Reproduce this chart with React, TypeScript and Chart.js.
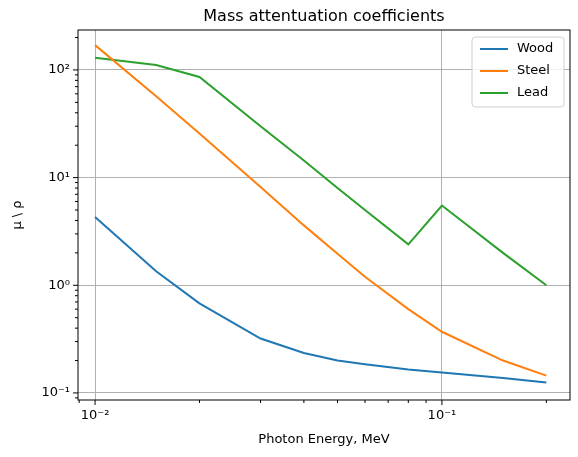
import { useEffect, useRef } from 'react';
import { Chart, registerables, type Plugin } from 'chart.js';

Chart.register(...registerables);

const energies = [0.01, 0.015, 0.02, 0.03, 0.04, 0.05, 0.06, 0.08, 0.1, 0.15, 0.2];
const wood = [4.3, 1.35, 0.68, 0.32, 0.235, 0.2, 0.185, 0.165, 0.155, 0.138, 0.125];
const steel = [170, 57, 25.7, 8.2, 3.6, 1.96, 1.2, 0.6, 0.37, 0.2, 0.145];
const lead = [130, 111, 86, 30, 14.4, 8.0, 5.0, 2.4, 5.5, 2.0, 1.0];
const seriesNames = ['Wood', 'Steel', 'Lead'];
const colors = ['#1f77b4', '#ff7f0e', '#2ca02c'];
const xMajor = [0.01, 0.1];
const xMajorLabels = ['10⁻²', '10⁻¹'];
const yMajor = [0.1, 1, 10, 100];
const yMajorLabels = ['10⁻¹', '10⁰', '10¹', '10²'];

const FONT = '"DejaVu Sans", sans-serif';

function minorTicks(min: number, max: number): number[] {
  const out: number[] = [];
  for (let e = Math.floor(Math.log10(min)); e <= Math.ceil(Math.log10(max)); e += 1) {
    for (let m = 2; m <= 9; m += 1) {
      const v = m * 10 ** e;
      if (v >= min && v <= max) out.push(v);
    }
  }
  return out;
}

const decorations: Plugin<'line'> = {
  id: 'decorations',
  afterDraw(chart) {
    const { ctx, chartArea: a } = chart;
    const xs = chart.scales.x;
    const ys = chart.scales.y;
    ctx.save();
    ctx.strokeStyle = '#000';
    ctx.lineWidth = 1;
    ctx.strokeRect(a.left, a.top, a.right - a.left, a.bottom - a.top);
    // ticks
    ctx.beginPath();
    xMajor.forEach((v) => { const p = xs.getPixelForValue(v); ctx.moveTo(p, a.bottom); ctx.lineTo(p, a.bottom + 5); });
    minorTicks(xs.min, xs.max).forEach((v) => { const p = xs.getPixelForValue(v); ctx.moveTo(p, a.bottom); ctx.lineTo(p, a.bottom + 3); });
    yMajor.forEach((v) => { const p = ys.getPixelForValue(v); ctx.moveTo(a.left, p); ctx.lineTo(a.left - 5, p); });
    minorTicks(ys.min, ys.max).forEach((v) => { const p = ys.getPixelForValue(v); ctx.moveTo(a.left, p); ctx.lineTo(a.left - 3, p); });
    ctx.stroke();
    ctx.fillStyle = '#000';
    ctx.font = `13px ${FONT}`;
    ctx.textAlign = 'center';
    ctx.textBaseline = 'top';
    xMajor.forEach((v, i) => ctx.fillText(xMajorLabels[i], xs.getPixelForValue(v), a.bottom + 9));
    ctx.textAlign = 'right';
    ctx.textBaseline = 'middle';
    yMajor.forEach((v, i) => ctx.fillText(yMajorLabels[i], a.left - 8, ys.getPixelForValue(v)));
    // axis titles
    ctx.textAlign = 'center';
    ctx.fillText('Photon Energy, MeV', (a.left + a.right) / 2, 440);
    ctx.save();
    ctx.translate(18, (a.top + a.bottom) / 2);
    ctx.rotate(-Math.PI / 2);
    ctx.fillText('μ \\ ρ', 0, 0);
    ctx.restore();
    ctx.font = `16px ${FONT}`;
    ctx.fillText('Mass attentuation coefficients', (a.left + a.right) / 2, 17);
    // legend
    const lx = 472; const ly = 37; const lw = 92; const lh = 70;
    ctx.fillStyle = 'rgba(255,255,255,0.8)';
    ctx.strokeStyle = '#d0d0d0';
    ctx.beginPath();
    ctx.roundRect(lx, ly, lw, lh, 3);
    ctx.fill();
    ctx.stroke();
    ctx.font = `13px ${FONT}`;
    ctx.textAlign = 'left';
    seriesNames.forEach((name, i) => {
      const y = ly + 12 + i * 22;
      ctx.strokeStyle = colors[i];
      ctx.lineWidth = 2;
      ctx.beginPath();
      ctx.moveTo(lx + 8, y);
      ctx.lineTo(lx + 36, y);
      ctx.stroke();
      ctx.fillStyle = '#000';
      ctx.fillText(name, lx + 45, y);
    });
    ctx.restore();
  },
};

export default function App() {
  const canvasRef = useRef<HTMLCanvasElement>(null);

  useEffect(() => {
    if (canvasRef.current === null) return undefined;
    const all = [wood, steel, lead];
    const chart = new Chart(canvasRef.current, {
      type: 'line',
      data: {
        datasets: all.map((vals, i) => ({
          label: seriesNames[i],
          data: energies.map((x, j) => ({ x, y: vals[j] })),
          borderColor: colors[i],
          backgroundColor: colors[i],
          borderWidth: 2,
          pointRadius: 0,
          tension: 0,
        })),
      },
      options: {
        animation: false,
        responsive: false,
        events: [],
        layout: { padding: { left: 78, right: 8, top: 30, bottom: 57 } },
        plugins: { legend: { display: false }, title: { display: false }, tooltip: { enabled: false } },
        scales: {
          x: {
            type: 'logarithmic',
            min: 0.00893,
            max: 0.234,
            afterBuildTicks: (s) => { s.ticks = xMajor.map((value) => ({ value })); },
            afterFit: (s) => { s.height = 0; },
            ticks: { display: false },
            grid: { color: '#b0b0b0', drawTicks: false },
            border: { display: false },
          },
          y: {
            type: 'logarithmic',
            min: 0.086,
            max: 235,
            afterBuildTicks: (s) => { s.ticks = yMajor.map((value) => ({ value })); },
            afterFit: (s) => { s.width = 0; },
            ticks: { display: false },
            grid: { color: '#b0b0b0', drawTicks: false },
            border: { display: false },
          },
        },
      },
      plugins: [decorations],
    });
    return () => { chart.destroy(); };
  }, []);

  return (
    <div style={{ position: 'fixed', left: 0, top: 0, width: 578, height: 457, background: '#fff' }}>
      <canvas ref={canvasRef} width={578} height={457} style={{ width: 578, height: 457 }} />
    </div>
  );
}
